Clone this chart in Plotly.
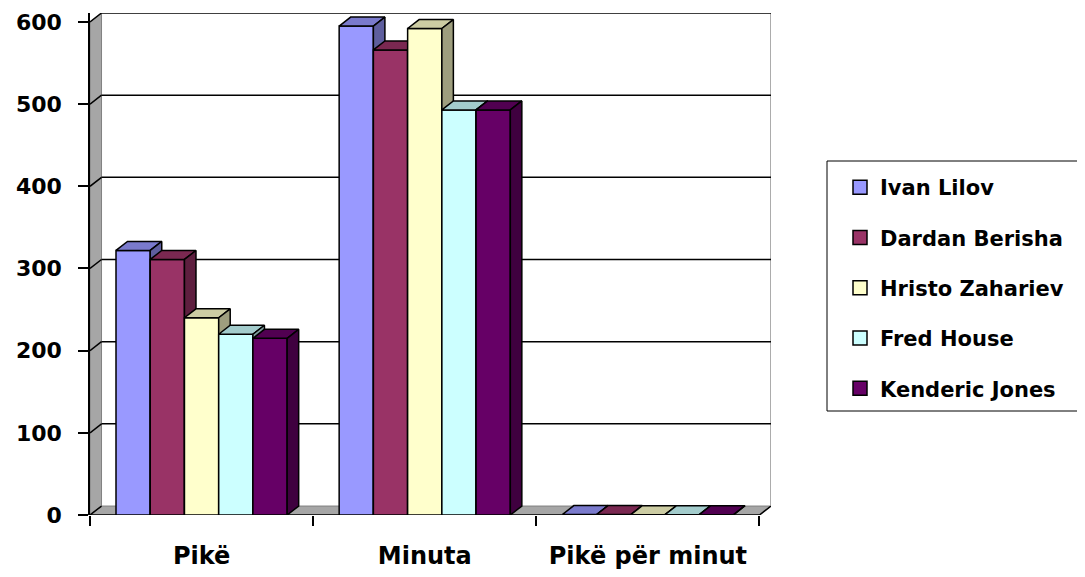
import plotly.graph_objects as go

# ---------------- data ----------------
categories = ["Pikë", "Minuta", "Pikë për minut"]
series_names = ["Ivan Lilov", "Dardan Berisha", "Hristo Zahariev", "Fred House", "Kenderic Jones"]
ivan_lilov = [322, 595, 0.54]
dardan_berisha = [311, 566, 0.53]
hristo_zahariev = [240, 592, 0.41]
fred_house = [220, 493, 0.45]
kenderic_jones = [215, 493, 0.44]
y_tick_values = [0, 100, 200, 300, 400, 500, 600]

series_values = [ivan_lilov, dardan_berisha, hristo_zahariev, fred_house, kenderic_jones]

# ---------------- style ----------------
front_colors = ["#9999FF", "#993366", "#FFFFCC", "#CCFFFF", "#660066"]
GROUP_W = 0.767          # fraction of category occupied by a cluster
DX = 0.0516              # depth offset (x data units)
DY = 10.9                # depth offset (y data units)
Y_TOP = 600 + DY
X_LEFT, X_RIGHT = -0.5, len(categories) - 0.5
WALL_GRAY = "#A6A6A6"
FONT = "DejaVu Sans"


def shade(hex_color, k):
    h = hex_color.lstrip("#")
    r, g, b = (int(h[i:i + 2], 16) for i in (0, 2, 4))
    return "#%02X%02X%02X" % (int(r * k), int(g * k), int(b * k))


def poly_path(pts):
    return "M " + " L ".join(f"{x},{y}" for x, y in pts) + " Z"


fig = go.Figure()

# ------------- 3D bars (painter's order, left to right) -------------
bar_w = GROUP_W / len(series_names)
for c in range(len(categories)):
    for i, name in enumerate(series_names):
        v = series_values[i][c]
        x0 = c - GROUP_W / 2 + i * bar_w
        x1 = x0 + bar_w
        col = front_colors[i]
        faces = [
            ([x0, x1, x1, x0, x0], [0, 0, v, v, 0], col),
            ([x0, x1, x1 + DX, x0 + DX, x0], [v, v, v + DY, v + DY, v], shade(col, 0.8)),
            ([x1, x1 + DX, x1 + DX, x1, x1], [0, DY, v + DY, v, 0], shade(col, 0.62)),
        ]
        for xs, ys, fc in faces:
            fig.add_trace(go.Scatter(
                x=xs, y=ys, mode="lines", fill="toself", fillcolor=fc,
                line=dict(color="black", width=1.5), hoverinfo="skip",
                showlegend=False, legendgroup=name,
            ))

# legend entries
for i, name in enumerate(series_names):
    fig.add_trace(go.Scatter(
        x=[None], y=[None], mode="markers", name=name, legendgroup=name,
        marker=dict(symbol="square", size=14, color=front_colors[i],
                    line=dict(color="black", width=1.5)),
    ))

# ------------- walls, floor, gridlines -------------
shapes = []
shapes.append(dict(type="path", xref="x", yref="y", layer="below",
                   path=poly_path([(X_LEFT, 0), (X_LEFT + DX, DY), (X_LEFT + DX, 600 + DY), (X_LEFT, 600)]),
                   fillcolor=WALL_GRAY, line=dict(color="#808080", width=1)))
shapes.append(dict(type="path", xref="x", yref="y", layer="below",
                   path=poly_path([(X_LEFT, 0), (X_RIGHT, 0), (X_RIGHT + DX, DY), (X_LEFT + DX, DY)]),
                   fillcolor=WALL_GRAY, line=dict(color="#808080", width=1)))
shapes.append(dict(type="line", xref="x", yref="y", layer="below",
                   x0=X_LEFT, y0=0, x1=X_RIGHT, y1=0, line=dict(color="black", width=1.5)))
shapes.append(dict(type="line", xref="x", yref="y", layer="below",
                   x0=X_RIGHT, y0=0, x1=X_RIGHT + DX, y1=DY, line=dict(color="black", width=1.5)))
shapes.append(dict(type="line", xref="x", yref="y", layer="below",
                   x0=X_RIGHT + DX, y0=DY, x1=X_RIGHT + DX, y1=600 + DY, line=dict(color="#909090", width=1.5)))
for v in y_tick_values:
    shapes.append(dict(type="line", xref="x", yref="y", layer="below",
                       x0=X_LEFT, y0=v, x1=X_LEFT + DX, y1=v + DY, line=dict(color="black", width=1.5)))
    if v == 0:
        continue
    shapes.append(dict(type="line", xref="x", yref="y", layer="below",
                       x0=X_LEFT + DX, y0=v + DY, x1=X_RIGHT + DX, y1=v + DY, line=dict(color="black", width=1.5)))

# plot area in screen pixels (page body adds an 8px offset)
W, H = 1085, 577
PAGE_OFF = 8
PLOT_L, PLOT_R, PLOT_T, PLOT_B = 90, 771, 13, 515


def px_to_paper_x(px):
    return (px - PLOT_L) / (PLOT_R - PLOT_L)


def px_to_paper_y(py):
    return (PLOT_B - py) / (PLOT_B - PLOT_T)


shapes.append(dict(type="rect", xref="paper", yref="paper",
                   x0=px_to_paper_x(827), x1=px_to_paper_x(1082),
                   y0=px_to_paper_y(411), y1=px_to_paper_y(161),
                   line=dict(color="black", width=1), fillcolor="rgba(0,0,0,0)"))

fig.update_layout(
    width=W, height=H, autosize=False,
    margin=dict(l=PLOT_L - PAGE_OFF, r=W - (PLOT_R - PAGE_OFF), t=PLOT_T - PAGE_OFF,
                b=H - (PLOT_B - PAGE_OFF), autoexpand=False),
    paper_bgcolor="white", plot_bgcolor="white",
    font=dict(family=FONT, size=24, color="black", weight="bold"),
    shapes=shapes,
    showlegend=True,
    legend=dict(x=px_to_paper_x(840), xanchor="left", y=px_to_paper_y(167), yanchor="top",
                bgcolor="rgba(0,0,0,0)", borderwidth=0,
                font=dict(family=FONT, size=21, color="black", weight="bold"),
                tracegroupgap=20),
    xaxis=dict(range=[X_LEFT, X_RIGHT + DX], tickmode="array", tickvals=list(range(len(categories))),
               ticktext=categories, ticks="", showline=False, showgrid=False, zeroline=False,
               automargin=False, ticklabeloverflow="allow",
               tickfont=dict(family=FONT, size=24, color="black", weight="bold"),
               ticklabelstandoff=24,
               minor=dict(ticks="outside", tick0=0.5, dtick=1, ticklen=10, tickwidth=1.5,
                          tickcolor="black", showgrid=False)),
    yaxis=dict(range=[0, Y_TOP], tickmode="array", tickvals=y_tick_values,
               ticks="outside", ticklen=10, tickwidth=1.5, tickcolor="black",
               showline=True, linecolor="black", linewidth=1.5,
               showgrid=False, zeroline=False, automargin=False, ticklabeloverflow="allow",
               tickfont=dict(family=FONT, size=22, color="black", weight="bold"),
               ticklabelstandoff=12),
)

fig.write_html("out.html")
